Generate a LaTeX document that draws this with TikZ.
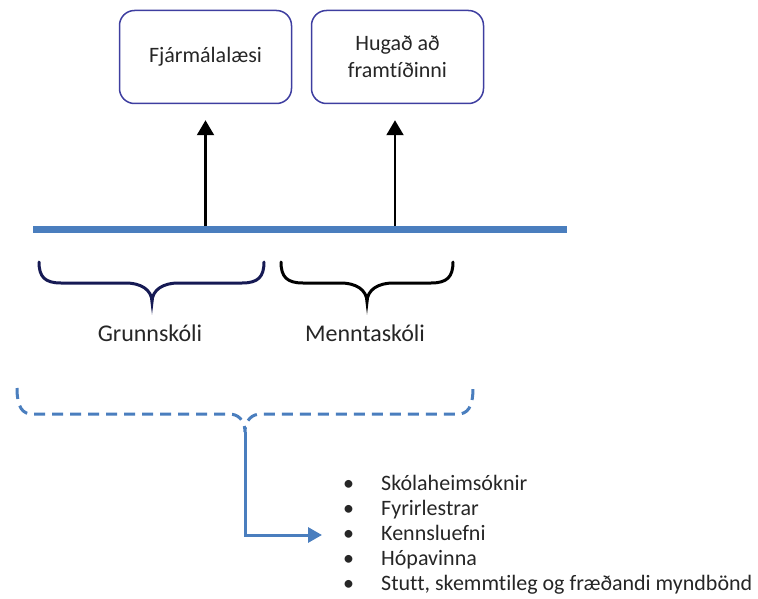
\documentclass[tikz,border=0pt]{standalone}
\usepackage{fontspec}
\setmainfont{Carlito}[Ligatures=CommonOff]
\usepackage{tikz}
\usetikzlibrary{arrows.meta,positioning}
\definecolor{boxblue}{RGB}{62,62,160}
\definecolor{lineblue}{RGB}{74,126,190}
\definecolor{navybrace}{RGB}{22,26,84}
\definecolor{txt}{RGB}{38,38,38}
% curly brace: xL, xR, xM, yTop, yFlat, yTip, end radius, middle radius
\newcommand{\curlybrace}[8]{(#1,#4) .. controls (#1,#5-6) and (#1+6,#5) .. (#1+#7,#5) -- (#3-#8,#5)
  .. controls (#3-0.45*#8,#5) and (#3,0.45*#5+0.55*#6-4) .. (#3,#6)
  .. controls (#3,0.45*#5+0.55*#6-4) and (#3+0.45*#8,#5) .. (#3+#8,#5) -- (#2-#7,#5)
  .. controls (#2-6,#5) and (#2,#5-6) .. (#2,#4)}

\begin{document}
\begin{tikzpicture}[x=1pt,y=-1pt,
    goal/.style={draw=boxblue, line width=1.5pt, rounded corners=15pt,
      minimum width=172pt, minimum height=93pt, align=center, text=txt,
      font=\fontsize{22}{27}\selectfont},
    stage/.style={text=txt, font=\fontsize{24}{28}\selectfont},
    up/.style={line width=2.2pt, shorten >=16pt, -{Triangle[length=15pt,width=17pt]}},
    brace/.style={line width=3pt, line cap=round},
    ]
    \useasboundingbox (0,0) rectangle (758,599);
    % goals
    \node[goal] (fin) at (205.5,57) {Fjármálalæsi};
    \node[goal] (fut) at (397.5,57) {Hugað að\\framtíðinni};
    % timeline
    \coordinate (tl) at (33,229.5);
    \coordinate (tr) at (567,229.5);
    \draw[lineblue, line width=7pt] (tl) -- (tr);
    \coordinate (a1) at (205.5,226);
    \coordinate (a2) at (395,226);
    \draw[up] (a1) -- (a1 |- fin.south);
    \draw[up] (a2) -- (a2 |- fut.south);
    % school levels
    \draw[brace, navybrace] \curlybrace{39}{264}{152}{262}{283}{302}{22}{26};
    \draw[brace, black] \curlybrace{281}{453}{367}{262}{283}{302}{22}{26};
    \node[stage] (gs) at (150,333) {Grunnskóli};
    \node[stage] (ms) at (365,333) {Menntaskóli};
    % methods
    \draw[brace, lineblue, line cap=butt, dash pattern=on 11pt off 7pt]
      \curlybrace{17}{473}{245}{388}{414}{432}{15}{16};
    \coordinate (dtip) at (245,432);
    \node[anchor=west, inner xsep=21pt, inner ysep=0pt, align=left, text=txt,
      font=\fontsize{22}{25}\selectfont] (lst) at (322,535)
      {\makebox[38pt][l]{\textbullet}Skólaheimsóknir\\
       \makebox[38pt][l]{\textbullet}Fyrirlestrar\\
       \makebox[38pt][l]{\textbullet}Kennsluefni\\
       \makebox[38pt][l]{\textbullet}Hópavinna\\
       \makebox[38pt][l]{\textbullet}Stutt, skemmtileg og fræðandi myndbönd};
    \draw[lineblue, line width=3pt, -{Triangle[length=14pt,width=15pt]}]
      (dtip) |- (lst.west);
\end{tikzpicture}
\end{document}
